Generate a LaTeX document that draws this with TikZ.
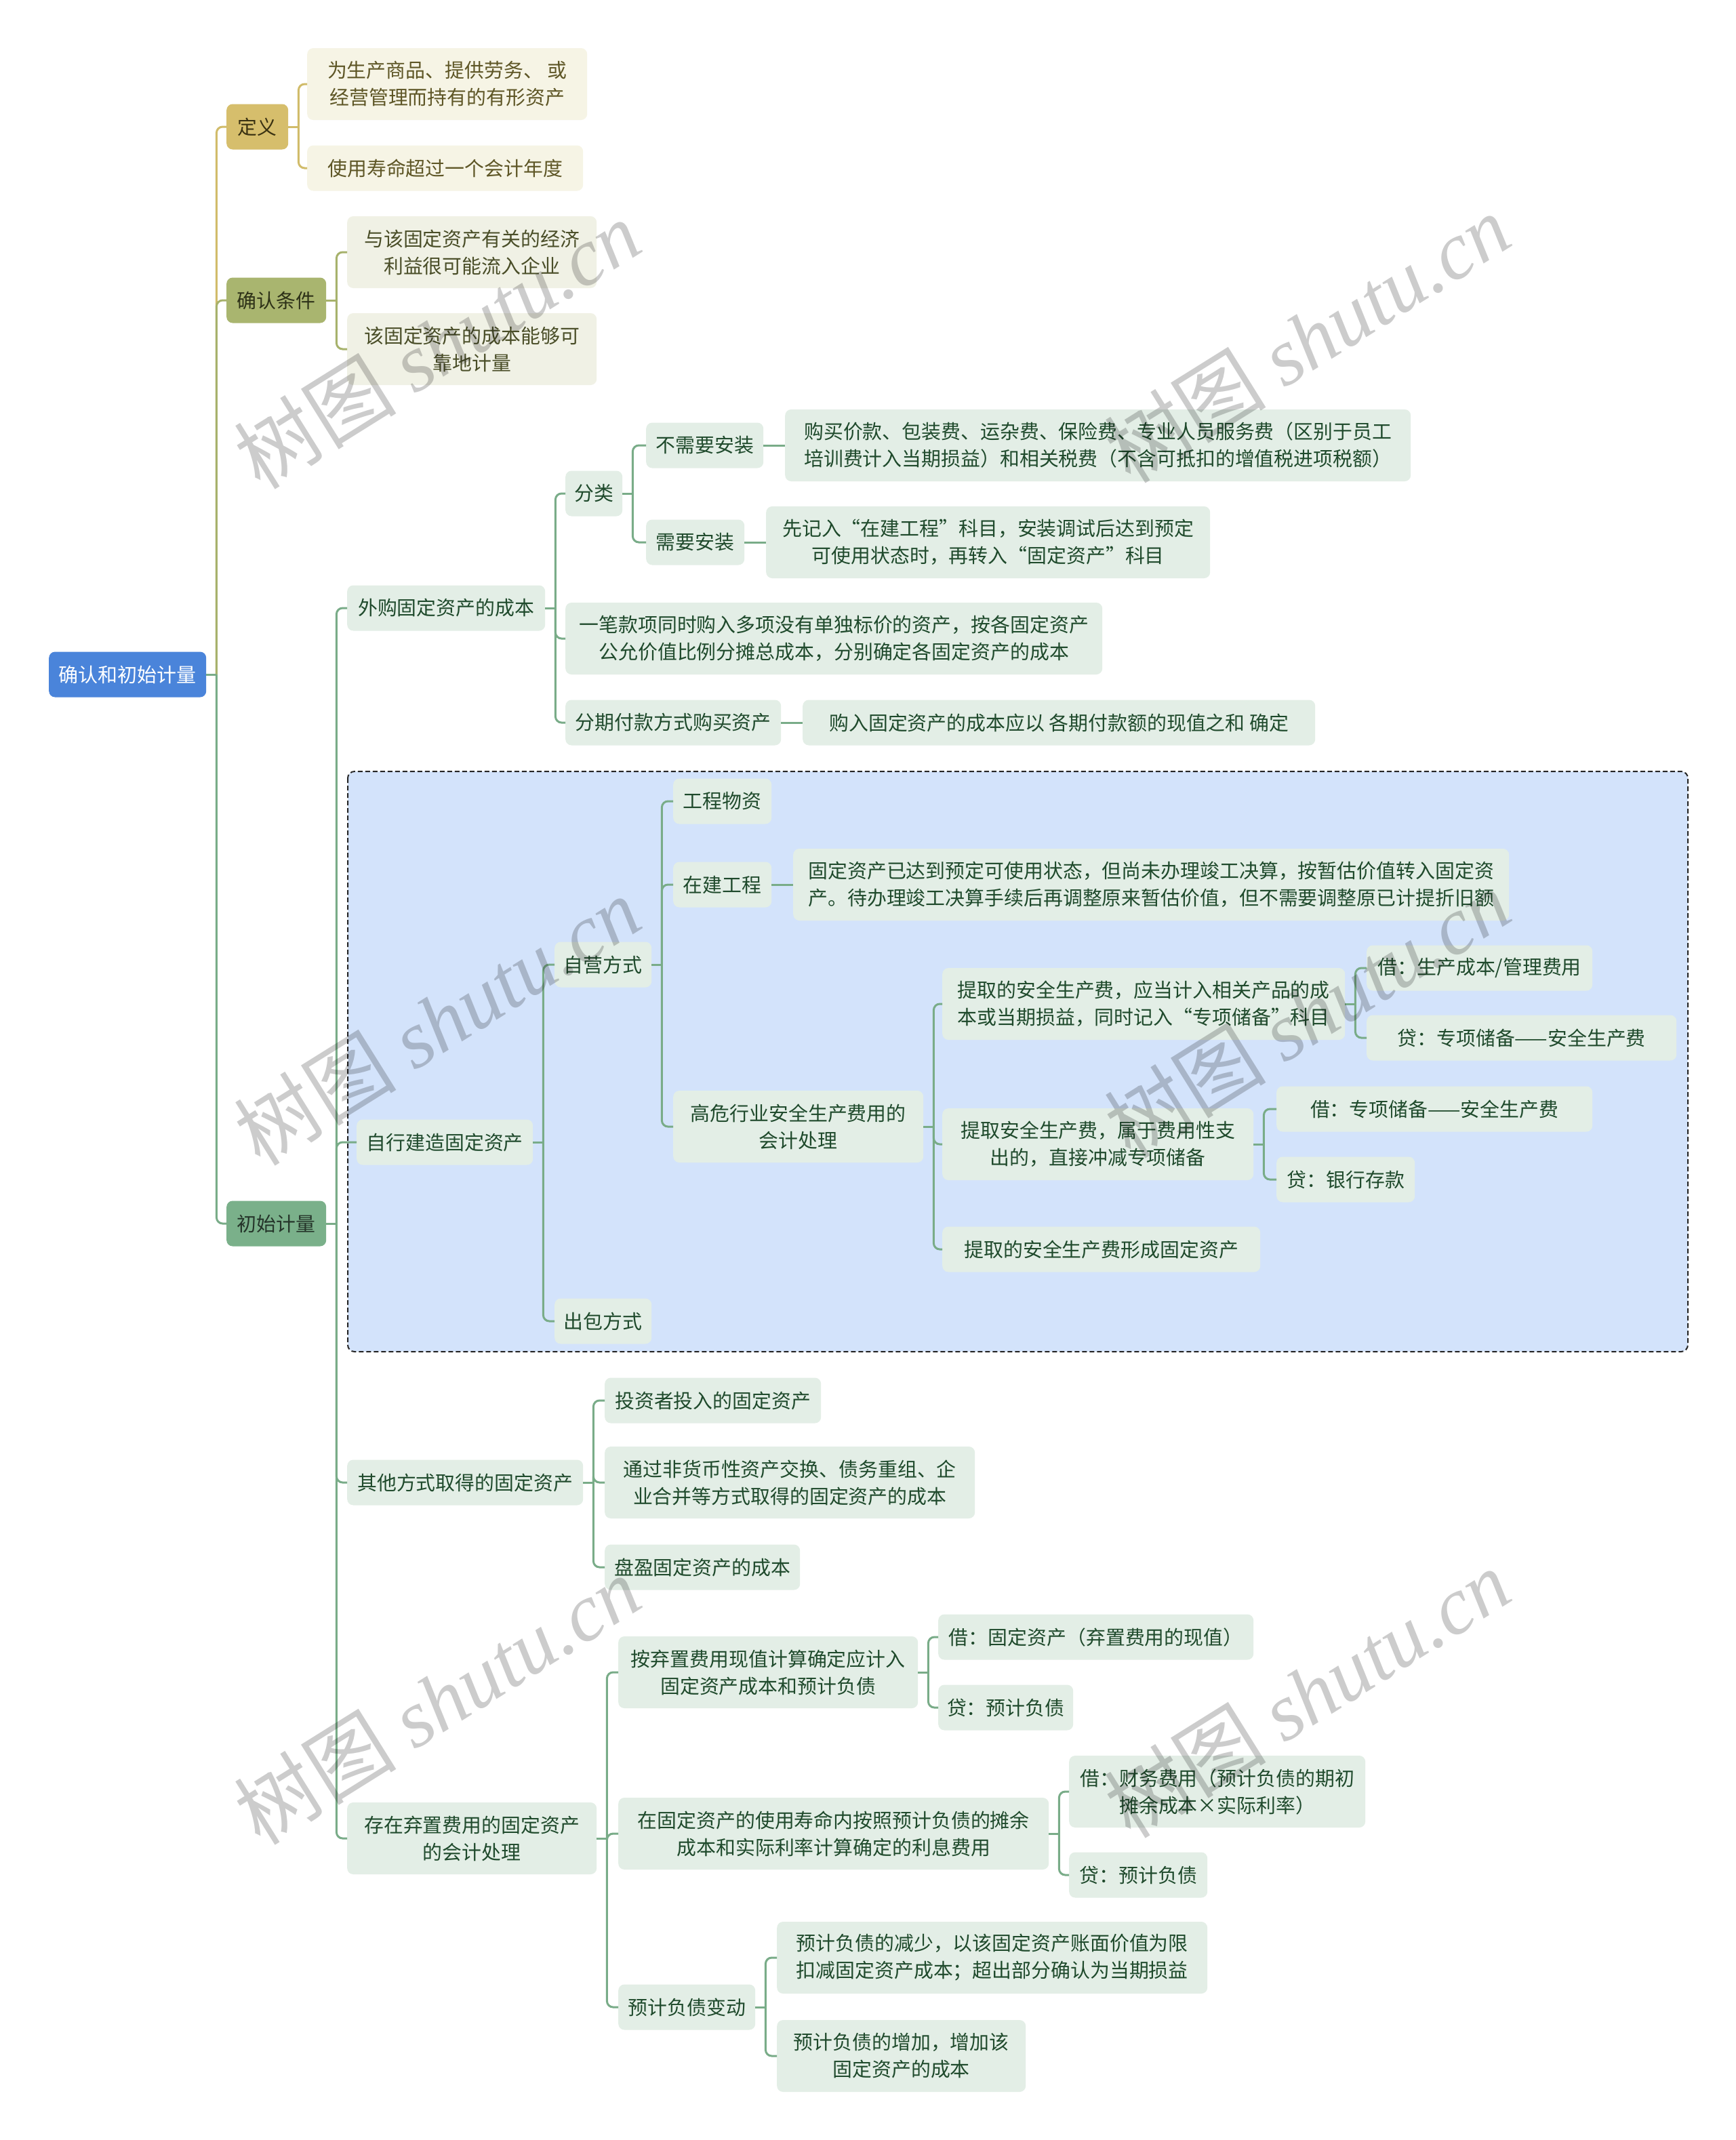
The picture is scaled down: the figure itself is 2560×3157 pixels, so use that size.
\documentclass[tikz,border=0pt]{standalone}
\usepackage{fontspec}
\setmainfont{Noto Sans CJK SC}
\newfontfamily\wmlatin{Liberation Serif}
\definecolor{rootfill}{HTML}{4A84DA}
\definecolor{deffill}{HTML}{D6BE6C}
\definecolor{deftext}{HTML}{3A3212}
\definecolor{confill}{HTML}{A9B56F}
\definecolor{context}{HTML}{2E3218}
\definecolor{initfill}{HTML}{7AB08A}
\definecolor{inittext}{HTML}{25352A}
\definecolor{cdeffill}{HTML}{F6F4E5}
\definecolor{cdeftext}{HTML}{5E5626}
\definecolor{cconfill}{HTML}{F0F1E5}
\definecolor{ccontext}{HTML}{4A4E28}
\definecolor{cgrnfill}{HTML}{E3EEE6}
\definecolor{cgrntext}{HTML}{1F4A2C}
\definecolor{bluebg}{HTML}{D3E3FB}
\definecolor{goldline}{HTML}{D1BC6A}
\definecolor{oliveline}{HTML}{A7B26C}
\definecolor{greenline}{HTML}{79AC88}
\tikzset{
  nbase/.style={rounded corners=9pt, inner sep=0pt, anchor=west, align=center, font=\fontsize{28.9}{40}\selectfont},
  nroot/.style={nbase, fill=rootfill, text=white, font=\fontsize{29}{40}\selectfont},
  ndef/.style={nbase, fill=deffill, text=deftext},
  ncon/.style={nbase, fill=confill, text=context},
  ninit/.style={nbase, fill=initfill, text=inittext},
  cdef/.style={nbase, fill=cdeffill, text=cdeftext},
  ccon/.style={nbase, fill=cconfill, text=ccontext},
  cgrn/.style={nbase, fill=cgrnfill, text=cgrntext},
  lgold/.style={draw=goldline, line width=3pt},
  lolive/.style={draw=oliveline, line width=3pt},
  lgreen/.style={draw=greenline, line width=3pt},
  wmark/.style={rotate=32, text=black, text opacity=0.2, font=\fontsize{120}{120}\selectfont, inner sep=0pt}
}
% name, style, left x, center y, width, height, text
\newcommand\nd[7]{\node[#2, minimum width=#5pt, minimum height=#6pt] (#1) at (#3,#4) {#7};}
% line style, parent, child
\newcommand\lnk[3]{\draw[#1] (#2.east) -- ++(15,0);
  \draw[#1, rounded corners=9pt] (#2.east) ++(15,0) |- (#3.west);}
\newcommand\dlnk[3]{\draw[#1] (#2.east) -- (#3.west);}
\begin{document}
\begin{tikzpicture}[x=1pt,y=-1pt]
\useasboundingbox (0,0) rectangle (2560,3157);
\fill[white] (0,0) rectangle (2560,3157);
% dashed frame
\draw[fill=bluebg, draw=black!85, line width=2pt, dash pattern=on 7pt off 4pt, rounded corners=10pt] (513,1138) rectangle (2490,1994);

% root and level 1
\nd{root}{nroot}{72}{995}{232}{67}{确认和初始计量}
\nd{dy}{ndef}{334}{187}{91}{67}{定义}
\nd{qr}{ncon}{334}{443}{147}{67}{确认条件}
\nd{cs}{ninit}{334}{1805}{147}{67}{初始计量}

% definition children
\nd{dy1}{cdef}{453}{124}{413}{106}{为生产商品、提供劳务、 或\\经营管理而持有的有形资产}
\nd{dy2}{cdef}{453}{248}{407}{67}{使用寿命超过一个会计年度}

% confirmation children
\nd{qr1}{ccon}{512}{372}{368}{106}{与该固定资产有关的经济\\利益很可能流入企业}
\nd{qr2}{ccon}{512}{515}{368}{106}{该固定资产的成本能够可\\靠地计量}

% initial measurement children
\nd{wg}{cgrn}{512}{897}{292}{67}{外购固定资产的成本}
\nd{zj}{cgrn}{526}{1685}{260}{67}{自行建造固定资产}
\nd{qt}{cgrn}{512}{2187}{348}{67}{其他方式取得的固定资产}
\nd{qz}{cgrn}{512}{2712}{368}{106}{存在弃置费用的固定资产\\的会计处理}

% purchased
\nd{fl}{cgrn}{834}{728}{84}{67}{分类}
\nd{yb}{cgrn}{834}{942}{792}{106}{一笔款项同时购入多项没有单独标价的资产，按各固定资产\\公允价值比例分摊总成本，分别确定各固定资产的成本}
\nd{fq}{cgrn}{834}{1066}{318}{67}{分期付款方式购买资产}
\nd{fqc}{cgrn}{1184}{1066}{756}{67}{购入固定资产的成本应以 各期付款额的现值之和 确定}
\nd{bx}{cgrn}{953}{657}{173}{67}{不需要安装}
\nd{bxc}{cgrn}{1158}{657}{923}{106}{购买价款、包装费、运杂费、保险费、专业人员服务费（区别于员工\\培训费计入当期损益）和相关税费（不含可抵扣的增值税进项税额）}
\nd{xy}{cgrn}{953}{800}{145}{67}{需要安装}
\nd{xyc}{cgrn}{1130}{800}{655}{106}{先记入“在建工程”科目，安装调试后达到预定\\可使用状态时，再转入“固定资产”科目}

% self-built
\nd{zy}{cgrn}{818}{1423}{143}{67}{自营方式}
\nd{cb}{cgrn}{818}{1949}{143}{67}{出包方式}
\nd{gc}{cgrn}{993}{1182}{145}{67}{工程物资}
\nd{zjgc}{cgrn}{993}{1305}{145}{67}{在建工程}
\nd{zjgcc}{cgrn,align=left}{1170}{1305}{1056}{106}{固定资产已达到预定可使用状态，但尚未办理竣工决算，按暂估价值转入固定资\\产。待办理竣工决算手续后再调整原来暂估价值，但不需要调整原已计提折旧额}
\nd{gw}{cgrn}{993}{1662}{369}{106}{高危行业安全生产费用的\\会计处理}
\nd{ta}{cgrn,align=left}{1390}{1481}{594}{106}{提取的安全生产费，应当计入相关产品的成\\本或当期损益，同时记入“专项储备”科目}
\nd{ta1}{cgrn}{2016}{1428}{333}{67}{借：生产成本/管理费用}
\nd{ta2}{cgrn}{2016}{1531}{457}{67}{贷：专项储备——安全生产费}
\nd{tb}{cgrn}{1390}{1688}{459}{106}{提取安全生产费，属于费用性支\\出的，直接冲减专项储备}
\nd{tb1}{cgrn}{1883}{1636}{466}{67}{借：专项储备——安全生产费}
\nd{tb2}{cgrn}{1883}{1740}{204}{67}{贷：银行存款}
\nd{tc}{cgrn}{1390}{1843}{469}{67}{提取的安全生产费形成固定资产}

% other ways
\nd{qt1}{cgrn}{892}{2066}{319}{67}{投资者投入的固定资产}
\nd{qt2}{cgrn}{892}{2187}{546}{106}{通过非货币性资产交换、债务重组、企\\业合并等方式取得的固定资产的成本}
\nd{qt3}{cgrn}{892}{2312}{288}{67}{盘盈固定资产的成本}

% disposal cost
\nd{qz1}{cgrn}{912}{2467}{442}{106}{按弃置费用现值计算确定应计入\\固定资产成本和预计负债}
\nd{qz1a}{cgrn}{1384}{2415}{465}{67}{借：固定资产（弃置费用的现值）}
\nd{qz1b}{cgrn}{1384}{2519}{199}{67}{贷：预计负债}
\nd{qz2}{cgrn}{912}{2705}{635}{106}{在固定资产的使用寿命内按照预计负债的摊余\\成本和实际利率计算确定的利息费用}
\nd{qz2a}{cgrn}{1577}{2643}{437}{106}{借：财务费用（预计负债的期初\\摊余成本×实际利率）}
\nd{qz2b}{cgrn}{1577}{2766}{204}{67}{贷：预计负债}
\nd{qz3}{cgrn}{912}{2961}{202}{67}{预计负债变动}
\nd{qz3a}{cgrn,align=left}{1146}{2888}{635}{106}{预计负债的减少，以该固定资产账面价值为限\\扣减固定资产成本；超出部分确认为当期损益}
\nd{qz3b}{cgrn}{1146}{3033}{367}{106}{预计负债的增加，增加该\\固定资产的成本}

% connectors
\lnk{lgold}{root}{dy}
\lnk{lolive}{root}{qr}
\lnk{lgreen}{root}{cs}
\lnk{lgold}{dy}{dy1}
\lnk{lgold}{dy}{dy2}
\lnk{lolive}{qr}{qr1}
\lnk{lolive}{qr}{qr2}
\lnk{lgreen}{cs}{wg}
\lnk{lgreen}{cs}{zj}
\lnk{lgreen}{cs}{qt}
\lnk{lgreen}{cs}{qz}
\lnk{lgreen}{wg}{fl}
\lnk{lgreen}{wg}{yb}
\lnk{lgreen}{wg}{fq}
\dlnk{lgreen}{fq}{fqc}
\lnk{lgreen}{fl}{bx}
\lnk{lgreen}{fl}{xy}
\dlnk{lgreen}{bx}{bxc}
\dlnk{lgreen}{xy}{xyc}
\lnk{lgreen}{zj}{zy}
\lnk{lgreen}{zj}{cb}
\lnk{lgreen}{zy}{gc}
\lnk{lgreen}{zy}{zjgc}
\lnk{lgreen}{zy}{gw}
\dlnk{lgreen}{zjgc}{zjgcc}
\lnk{lgreen}{gw}{ta}
\lnk{lgreen}{gw}{tb}
\lnk{lgreen}{gw}{tc}
\lnk{lgreen}{ta}{ta1}
\lnk{lgreen}{ta}{ta2}
\lnk{lgreen}{tb}{tb1}
\lnk{lgreen}{tb}{tb2}
\lnk{lgreen}{qt}{qt1}
\lnk{lgreen}{qt}{qt2}
\lnk{lgreen}{qt}{qt3}
\lnk{lgreen}{qz}{qz1}
\lnk{lgreen}{qz}{qz2}
\lnk{lgreen}{qz}{qz3}
\lnk{lgreen}{qz1}{qz1a}
\lnk{lgreen}{qz1}{qz1b}
\lnk{lgreen}{qz2}{qz2a}
\lnk{lgreen}{qz2}{qz2b}
\lnk{lgreen}{qz3}{qz3a}
\lnk{lgreen}{qz3}{qz3b}

% watermarks
\node[wmark] (wm1) at (645,508) {树图 {\wmlatin\itshape shutu.cn}};
\node[wmark] (wm2) at (1928,499) {树图 {\wmlatin\itshape shutu.cn}};
\node[wmark] (wm3) at (645,1506) {树图 {\wmlatin\itshape shutu.cn}};
\node[wmark] (wm4) at (1928,1495) {树图 {\wmlatin\itshape shutu.cn}};
\node[wmark] (wm5) at (645,2508) {树图 {\wmlatin\itshape shutu.cn}};
\node[wmark] (wm6) at (1928,2498) {树图 {\wmlatin\itshape shutu.cn}};
\end{tikzpicture}
\end{document}
